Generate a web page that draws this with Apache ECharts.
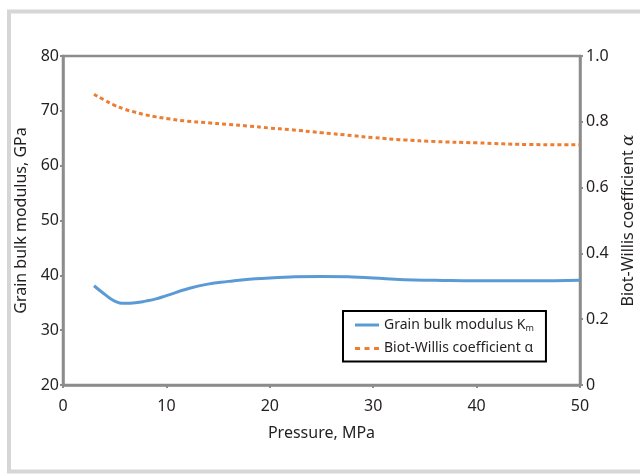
<!DOCTYPE html>
<html>
<head>
<meta charset="utf-8">
<script src="https://cdn.jsdelivr.net/npm/echarts@6/dist/echarts.min.js"></script>
<style>
  html, body { margin: 0; padding: 0; background: #fff; }
  #chart { width: 640px; height: 474px; }
</style>
</head>
<body>
<div id="chart"></div>
<script>
// pressure, MPa
const pressure = [3, 4, 5, 6, 7, 8, 9, 10, 12, 14, 16, 18, 20, 22, 25, 28, 30, 33, 36, 40, 45, 50];
// grain bulk modulus Km, GPa (left axis)
const grainModulus = [38.1, 36.6, 35.3, 34.9, 35.0, 35.3, 35.7, 36.3, 37.5, 38.4, 38.9, 39.3, 39.5, 39.7, 39.8, 39.7, 39.5, 39.2, 39.1, 39.0, 39.0, 39.1];
// Biot-Willis coefficient alpha (right axis)
const biotAlpha = [0.884, 0.866, 0.850, 0.838, 0.829, 0.821, 0.815, 0.810, 0.802, 0.797, 0.792, 0.787, 0.781, 0.776, 0.767, 0.758, 0.752, 0.745, 0.740, 0.736, 0.731, 0.730];

const nameKm = 'Grain bulk modulus Km';
const nameAlpha = 'Biot-Willis coefficient α';

const axisGray = '#8c8c8c';
const textColor = '#231f20';
const fontFam = '"Noto Sans", sans-serif';
const blue = '#5b9bd5';
const orange = '#ed7d31';

const chart = echarts.init(document.getElementById('chart'));

const option = {
    animation: false,
    textStyle: { fontFamily: fontFam, color: textColor },
    graphic: [
        { // outer light frame
            type: 'rect',
            shape: { x: 9, y: 11.5, width: 700, height: 460 },
            style: { fill: 'none', stroke: '#d6d6d6', lineWidth: 4 },
            silent: true
        }
    ],
    grid: {
        left: 63, right: 60, top: 56, bottom: 89,
        outerBoundsMode: 'none',
        containLabel: false,
        show: true, borderColor: axisGray, borderWidth: 2.5, backgroundColor: 'transparent'
    },
    legend: {
        orient: 'vertical',
        left: 343, top: 311,
        width: 200,
        padding: [7, 12, 6, 12],
        itemGap: 9,
        itemWidth: 24, itemHeight: 10,
        borderColor: '#000', borderWidth: 2,
        backgroundColor: '#fff',
        formatter: (name) => name === nameKm ? 'Grain bulk modulus K{sub|m}' : name,
        textStyle: {
            fontSize: 14, color: textColor, fontFamily: fontFam,
            rich: { sub: { fontSize: 9, verticalAlign: 'bottom', padding: [6, 0, 0, 0], color: textColor } }
        },
        data: [
            { name: nameKm, icon: 'path://M0,0h24v3h-24z', itemStyle: { color: blue } },
            { name: nameAlpha, icon: 'path://M0,0h5v3h-5z M9.5,0h5v3h-5z M19,0h5v3h-5z', itemStyle: { color: orange } }
        ]
    },
    xAxis: {
        type: 'value',
        min: 0, max: 50, interval: 10,
        name: 'Pressure, MPa',
        nameLocation: 'middle', nameGap: 40,
        nameTextStyle: { fontSize: 16, color: textColor },
        axisLine: { show: true, lineStyle: { color: axisGray, width: 2.5 } },
        axisTick: { show: true, inside: false, length: 3, lineStyle: { color: axisGray, width: 2 } },
        axisLabel: { fontSize: 16, color: textColor, margin: 13 },
        splitLine: { show: false }
    },
    yAxis: [
        {
            type: 'value',
            min: 20, max: 80, interval: 10,
            name: 'Grain bulk modulus, GPa',
            nameLocation: 'middle', nameGap: 27,
            nameTextStyle: { fontSize: 16, color: textColor },
            axisLine: { show: true, lineStyle: { color: axisGray, width: 2.5 } },
            axisTick: { show: true, length: 3, lineStyle: { color: axisGray, width: 2 } },
            axisLabel: { fontSize: 16, color: textColor, margin: 4 },
            splitLine: { show: false }
        },
        {
            type: 'value',
            min: 0, max: 1, interval: 0.2,
            name: 'Biot-Willis coefficient {i|α}',
            nameLocation: 'middle', nameGap: 40, nameRotate: 90,
            nameTextStyle: {
                fontSize: 16, color: textColor,
                rich: { i: { fontSize: 17, fontStyle: 'italic', fontFamily: '"DejaVu Serif", serif', color: textColor } }
            },
            axisLine: { show: true, lineStyle: { color: axisGray, width: 2.5 } },
            axisTick: { show: true, length: 3, lineStyle: { color: axisGray, width: 2 } },
            axisLabel: {
                fontSize: 16, color: textColor, margin: 6,
                formatter: (v) => v === 0 ? '0' : v.toFixed(1)
            },
            splitLine: { show: false }
        }
    ],
    series: [
        {
            name: nameKm,
            type: 'line',
            yAxisIndex: 0,
            smooth: true,
            symbol: 'none',
            lineStyle: { color: blue, width: 3 },
            itemStyle: { color: blue },
            data: pressure.map((p, i) => [p, grainModulus[i]])
        },
        {
            name: nameAlpha,
            type: 'line',
            yAxisIndex: 1,
            smooth: true,
            symbol: 'none',
            lineStyle: { color: orange, width: 3, type: [4, 3] },
            itemStyle: { color: orange },
            data: pressure.map((p, i) => [p, biotAlpha[i]])
        }
    ]
};

chart.setOption(option);
</script>
</body>
</html>
